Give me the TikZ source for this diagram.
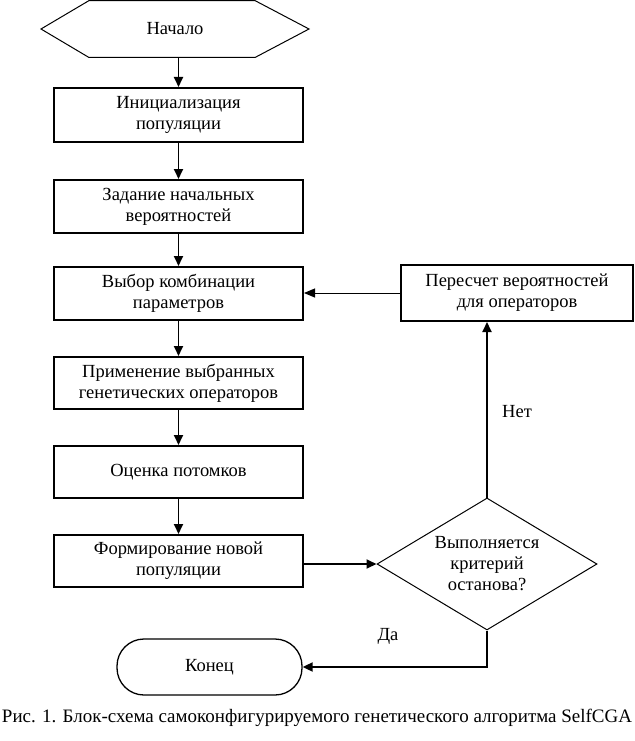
\documentclass[tikz,border=0pt]{standalone}
\usepackage{fontspec}
\setmainfont{Liberation Serif}
\usetikzlibrary{arrows.meta,shapes.geometric,calc}
\tikzset{
  procbox/.style={draw, line width=2pt, minimum width=249pt, inner sep=0pt, align=center, font=\fontsize{18.5}{21}\selectfont},
  arr/.style={line width=1.8pt, -{Triangle[length=10pt,width=9pt]}},
  arrthin/.style={line width=1pt, -{Triangle[length=11pt,width=9pt]}},
  lbl/.style={font=\fontsize{18.5}{21}\selectfont, inner sep=0pt}
}
\begin{document}
\begin{tikzpicture}[x=1pt,y=-1pt]
\useasboundingbox (0,0) rectangle (634,741);
% start (hexagon)
\node[lbl, minimum width=269pt, minimum height=58pt] (start) at (175,29) {Начало};
\draw[line width=1pt] (41,29) -- (89,0.6) -- (255,0.6) -- (309,29) -- (255,57.5) -- (89,57.5) -- cycle;
% boxes
\node[procbox, minimum height=54pt] (b1) at (178.5,115) {Инициализация\\популяции};
\node[procbox, minimum height=53pt] (b2) at (178.5,206.5) {Задание начальных\\вероятностей};
\node[procbox, minimum height=53pt] (b3) at (178.5,293.5) {Выбор комбинации\\параметров};
\node[procbox, minimum height=52pt] (b4) at (178.5,383) {Применение выбранных\\генетических операторов};
\node[procbox, minimum height=52pt] (b5) at (178.5,472) {Оценка потомков};
\node[procbox, minimum height=52pt] (b6) at (178.5,561) {Формирование новой\\популяции};
\node[procbox, minimum width=232pt, minimum height=56pt] (r) at (517,293) {Пересчет вероятностей\\для операторов};
\node[draw, line width=1pt, shape=diamond, aspect=1.667, minimum width=220pt, minimum height=132pt, inner sep=0pt, align=center, font=\fontsize{18.5}{21}\selectfont] (d) at (487,564) {Выполняется\\критерий\\останова?};
\node[draw, line width=1.3pt, rounded corners=27pt, minimum width=185pt, minimum height=56pt, lbl] (e) at (209.5,667) {Конец};
% connectors
\draw[arr] (start.south -| b1.north) -- (b1.north);
\draw[arr] (b1) -- (b2);
\draw[arr] (b2) -- (b3);
\draw[arr] (b3) -- (b4);
\draw[arr] (b4) -- (b5);
\draw[arr] (b5) -- (b6);
\draw[arr] (b6.east |- d.west) -- (d.west);
\draw[arr] (d.north) -- (d.north |- r.south);
\draw[arrthin] (r.west) -- (r.west -| b3.east);
\draw[arr] (d.south) -- (d.south |- e.east) -- (e.east);
% labels
\node[lbl] (yes) at (388,636) {Да};
\node[lbl] (no) at (517,412) {Нет};
% caption
\node[inner sep=0pt] (cap) at (317,718) {\resizebox{630pt}{!}{\fontsize{19}{22}\selectfont Рис. 1. Блок-схема самоконфигурируемого генетического алгоритма SelfCGA}};
\end{tikzpicture}
\end{document}
